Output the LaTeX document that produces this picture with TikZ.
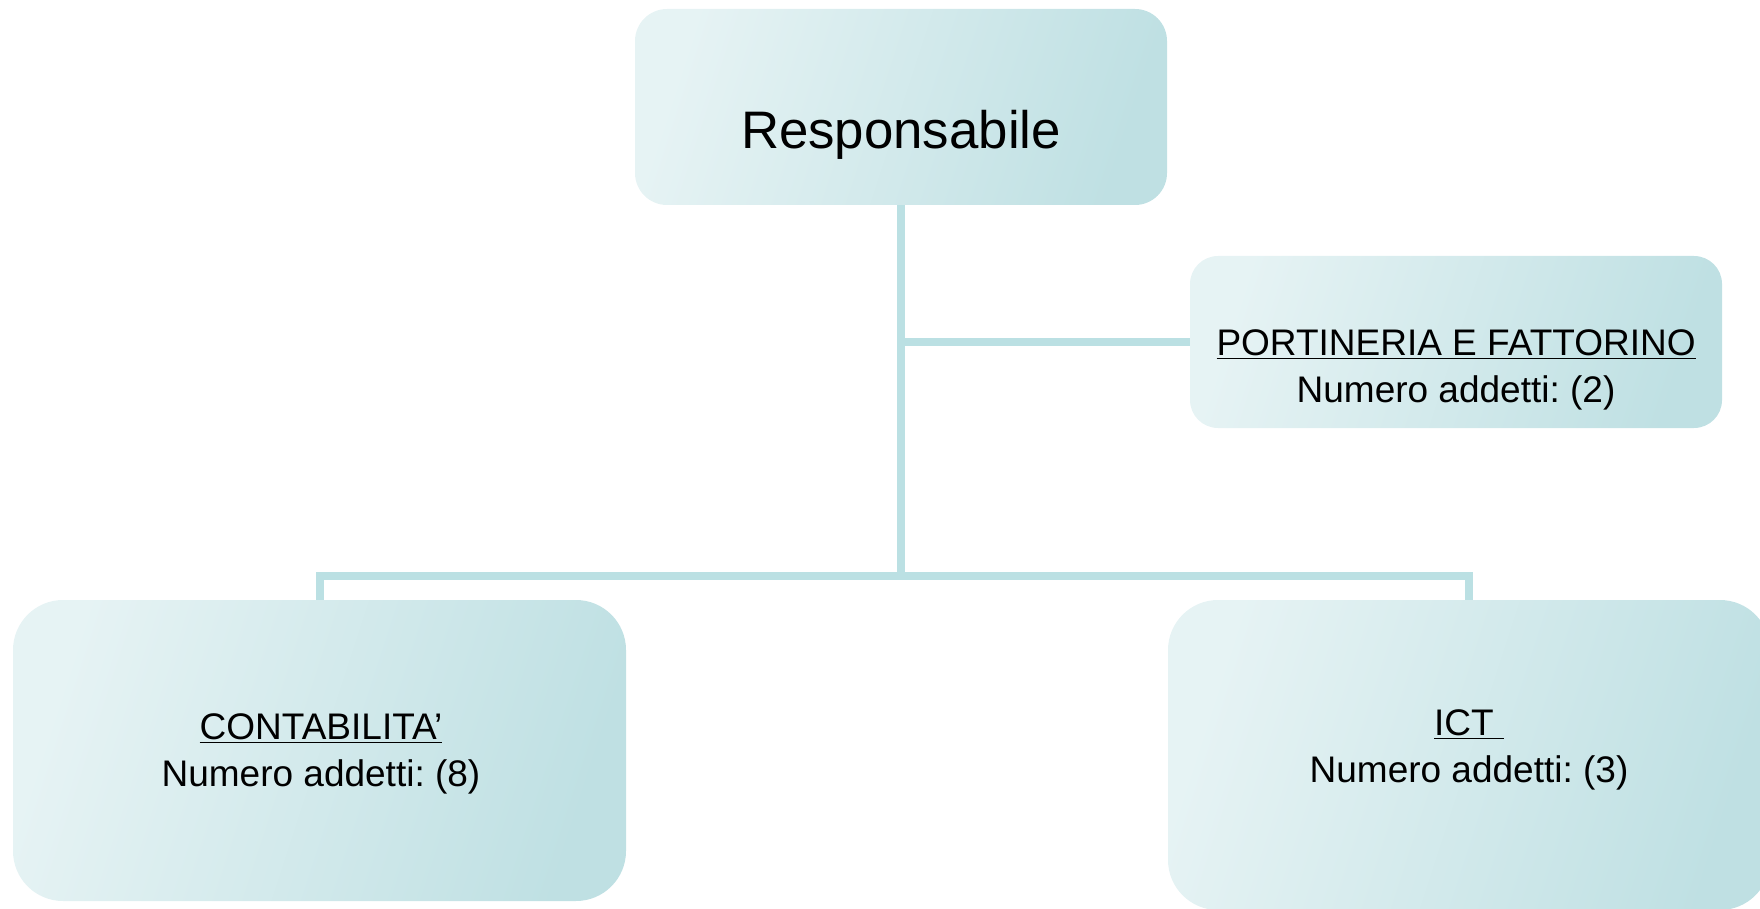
\documentclass[tikz,border=0pt]{standalone}
\usepackage{fontspec}
\setmainfont{Liberation Sans}
\frenchspacing
\definecolor{boxlight}{HTML}{E6F3F4}
\definecolor{boxdark}{HTML}{BFE0E3}
\definecolor{connc}{HTML}{BBE0E3}
\tikzset{
  orgbox/.style={draw=none, rectangle, inner sep=0pt,
    top color=boxlight, bottom color=boxdark, shading angle=72},
  conn/.style={draw=connc, line width=4pt},
  txt/.style={inner sep=0pt, align=center, text=black},
  smalltxt/.style={txt, font=\fontsize{18.5}{23.5}\selectfont},
}
\begin{document}
\begin{tikzpicture}[x=0.5pt,y=-0.5pt]
\useasboundingbox (0,0) rectangle (1760,909);
\clip (0,0) rectangle (1760,909);
\node[orgbox, rounded corners=16pt, minimum width=266pt, minimum height=98pt] (top) at (901,107) {};
\node[orgbox, rounded corners=14pt, minimum width=266pt, minimum height=86pt] (port) at (1456,342) {};
\node[orgbox, rounded corners=25pt, minimum width=306.5pt, minimum height=150.5pt] (cont) at (319.5,750.5) {};
\node[orgbox, rounded corners=25pt, minimum width=301pt, minimum height=155pt] (ict) at (1469,755) {};
\coordinate (j) at (901,576);
\draw[conn] (top.south) -- (j);
\draw[conn] (port.west) -- (port.west -| top.south);
\draw[conn] (cont.north) -- (cont.north |- j) -- (ict.north |- j) -- (ict.north);
\node[txt, font=\fontsize{26.4}{30}\selectfont] (toptxt) at (901,135) {Responsabile};
\node[smalltxt] (porttxt) at (1456,370) {\underline{PORTINERIA E FATTORINO}\\Numero addetti: (2)};
\node[smalltxt] (conttxt) at (321,754) {\underline{CONTABILITA’}\\Numero addetti: (8)};
\node[smalltxt] (icttxt) at (1469,750) {\underline{ICT\ }\\Numero addetti: (3)};
\end{tikzpicture}
\end{document}
